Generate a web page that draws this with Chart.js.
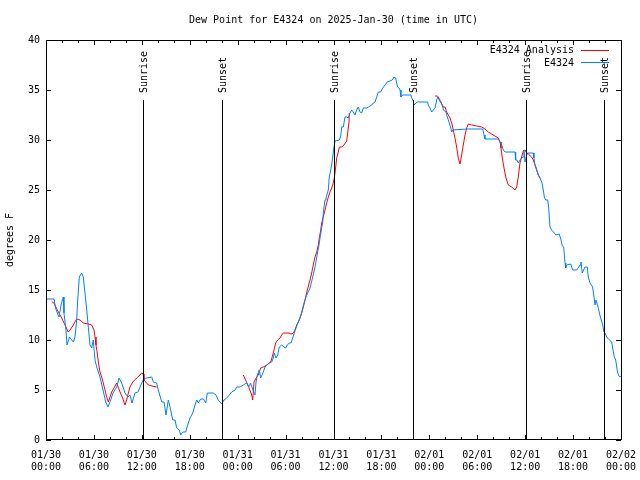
<!DOCTYPE html>
<html><head><meta charset="utf-8">
<script src="https://cdn.jsdelivr.net/npm/chart.js@4.4.1/dist/chart.umd.min.js"></script>
<style>html,body{margin:0;padding:0;background:#fff;}#wrap{width:640px;height:480px;}</style>
</head><body><div id="wrap"><canvas id="c" width="640" height="480"></canvas></div>
<script>
const titleText = 'Dew Point for E4324 on 2025-Jan-30 (time in UTC)';
const yAxisTitle = 'degrees F';
const seriesNames = ['E4324 Analysis', 'E4324'];
const xTickLabels = [['01/30','00:00'],['01/30','06:00'],['01/30','12:00'],['01/30','18:00'],
  ['01/31','00:00'],['01/31','06:00'],['01/31','12:00'],['01/31','18:00'],
  ['02/01','00:00'],['02/01','06:00'],['02/01','12:00'],['02/01','18:00'],['02/02','00:00']];
const sunriseHours = [12.1, 36.1, 60.1];
const sunsetHours = [22.0, 46.0, 69.92];
const sunLabelLevel = 34;

// hours since 2025-01-30 00:00 UTC
const stationHours = [
  0, 1.0, 1.19, 1.5, 1.63, 1.88, 2.17, 2.25, 2.5, 2.63,
  2.94, 3.42, 3.63, 3.84, 3.97, 4.17, 4.47, 4.67, 4.88, 5.1,
  5.3, 5.51, 5.72, 5.92, 6.14, 6.35, 6.76, 7.14, 7.48, 7.76,
  8.01, 8.39, 8.85, 9.14, 9.48, 9.89, 10.27, 10.52, 10.77, 11.14,
  11.52, 11.98, 12.18, 12.61, 13.24, 13.44, 13.86, 14.06, 14.49, 14.78,
  15.03, 15.31, 15.53, 15.87, 16.15, 16.37, 16.69, 16.87, 17.12, 17.49,
  17.74, 18.03, 18.37, 18.66, 18.87, 19.07, 19.37, 19.7, 20.0, 20.2,
  20.95, 21.29, 21.57, 22.0, 22.29, 22.63, 22.95, 23.25, 23.67, 23.88,
  24.29, 24.71, 25.13, 25.36, 25.6, 25.92, 26.17, 26.3, 26.46, 26.71,
  26.88, 27.21, 27.42, 27.64, 27.96, 28.26, 28.46, 28.59, 28.8, 29.01,
  29.21, 29.51, 29.8, 30.01, 30.22, 30.47, 30.68, 30.89, 31.09, 31.3,
  31.55, 31.8, 32.02, 32.31, 32.64, 33.06, 33.4, 33.68, 34.02, 34.18,
  34.31, 34.52, 34.65, 34.72, 34.85, 34.94, 35.06, 35.35, 35.47, 35.65,
  35.77, 35.9, 36.06, 36.19, 36.73, 36.9, 37.03, 37.23, 37.44, 37.65,
  37.85, 38.07, 38.28, 38.48, 38.69, 38.9, 39.1, 39.32, 39.53, 39.73,
  40.16, 40.36, 40.78, 40.98, 41.2, 41.41, 41.61, 41.91, 42.16, 42.45,
  42.74, 43.07, 43.36, 43.57, 43.79, 43.91, 44.04, 44.2, 44.33, 44.45,
  44.66, 45.7, 45.79, 45.99, 46.08, 46.33, 46.49, 47.79, 47.87, 48.08,
  48.3, 48.5, 48.71, 48.92, 49.05, 49.25, 49.46, 49.67, 49.75, 50.09,
  50.25, 50.5, 50.68, 50.8, 50.93, 52.68, 54.68, 54.85, 54.97, 56.64,
  56.85, 57.06, 57.26, 57.48, 58.73, 58.81, 58.97, 59.14, 59.35, 59.56,
  59.76, 59.85, 59.98, 60.27, 61.02, 61.1, 61.23, 61.35, 61.52, 61.65,
  61.86, 62.11, 62.27, 62.4, 62.57, 62.82, 62.95, 63.03, 63.11, 63.32,
  63.65, 63.86, 64.27, 64.49, 64.65, 64.83, 64.9, 64.99, 65.08, 65.2,
  65.7, 65.95, 66.45, 66.87, 66.99, 67.15, 67.49, 67.78, 67.9, 68.12,
  68.45, 68.62, 68.75, 68.87, 69.16, 69.29, 69.46, 69.71, 69.87, 70.0,
  70.21, 70.42, 70.84, 71.04, 71.17, 71.34, 71.46, 71.59, 71.75, 71.87
];
const stationValues = [
  14.1, 14.1, 13.2, 12.5, 12.3, 13.5, 14.3, 12.7, 11, 9.5,
  10.3, 9.8, 10.3, 12, 14, 16.3, 16.7, 16.3, 14.7, 13,
  11.3, 9.5, 9.2, 10, 8, 7.3, 6.3, 5, 3.8, 3.3,
  3.8, 4.7, 5.3, 6.2, 5.7, 4.7, 4.3, 4.5, 3.7, 4.7,
  4.8, 5.7, 6.0, 6.2, 6.3, 5.8, 5.7, 5.0, 3.8, 3.8,
  2.5, 4, 3.3, 2, 2, 1.2, 1.0, 0.5, 0.8, 0.8,
  1.5, 2.2, 2.7, 3.5, 4, 3.7, 4.1, 4.1, 3.7, 4.7,
  4.7, 4.5, 4, 3.6, 4.0, 4.2, 4.5, 4.8, 5.0, 5.3,
  5.3, 5.5, 5.7, 5.3, 5.7, 5.0, 4.5, 5.8, 6.5, 7,
  6.2, 6.8, 7.3, 7.5, 7.7, 7.8, 8.2, 8.7, 8.2, 8.5,
  9.3, 9.5, 9.3, 9.2, 9.5, 9.7, 9.7, 10.2, 10.7, 11.2,
  11.7, 12.2, 12.8, 13.7, 14.5, 15.2, 16.3, 17.3, 18.8, 19.5,
  20.2, 21.2, 21.8, 22.7, 23.5, 24.0, 24.2, 25, 26.3, 27,
  27.5, 28.3, 29.3, 29.9, 30, 30.4, 31.3, 31.3, 32.3, 32.3,
  32.2, 32.7, 33, 32.8, 32.5, 33, 33.3, 32.8, 32.7, 33.2,
  33.2, 33.3, 33.5, 33.7, 33.8, 34.3, 34.8, 34.8, 35.2, 35.5,
  35.8, 35.9, 36, 36.3, 36.2, 35.7, 35.3, 35.2, 35.0, 34.3,
  34.5, 34.5, 34.2, 33.9, 33.5, 33.7, 33.8, 33.8, 33.5, 33.2,
  32.8, 33, 33.2, 34, 34.3, 34.0, 33.7, 33.5, 33, 32.8,
  32.3, 31.7, 31.2, 30.8, 31, 31.1, 31.1, 30.5, 30.1, 30.1,
  29.8, 29.5, 29, 28.8, 28.8, 28, 28, 27.7, 28, 28.2,
  28.3, 29, 27.8, 28.7, 28.7, 28.2, 27.5, 27.3, 26.8, 26.5,
  26.2, 25.7, 25, 24.3, 24, 24, 23.2, 22.2, 21.3, 21,
  20.7, 20.5, 20.6, 20, 19.4, 19.3, 18.5, 17.7, 17.2, 17.5,
  17.6, 17, 17, 17.5, 17.8, 16.7, 17.3, 17.3, 16.3, 15.7,
  15.3, 14.3, 13.5, 14, 13.2, 12.7, 12.2, 11.5, 10.8, 10.7,
  10.3, 10.1, 9.8, 8.8, 8.3, 8, 7.3, 6.7, 6.4, 6.3
];

const analysisHours = [
  0.79, 1.0, 1.54, 1.97, 2.38, 2.79, 3.01, 3.42, 3.84, 4.26,
  4.67, 5.3, 5.72, 6.01, 6.14, 6.26, 6.42, 6.55, 6.76, 6.97,
  7.17, 7.39, 7.6, 7.8, 8.23, 8.51, 8.85, 9.27, 9.6, 9.89,
  10.1, 10.31, 10.52, 10.86, 11.36, 11.77, 11.98, 12.18, 12.27, 12.81,
  13.27, 13.86, 19.0,
  24.71, 25.05, 25.33, 25.76, 25.88, 26.05, 26.38, 26.58, 26.88, 27.21,
  27.64, 28.14, 28.39, 28.55, 28.76, 29.01, 29.3, 29.51, 29.71, 30.43,
  30.68, 30.97, 31.18, 31.39, 31.59, 31.8, 32.02, 32.22, 32.43, 32.72,
  33.06, 33.27, 33.47, 33.68, 33.9, 34.1, 34.22, 34.4, 34.52, 34.72,
  34.94, 35.15, 35.35, 35.56, 35.77, 35.97, 36.1, 36.28, 36.4, 36.6,
  36.73, 37.03, 37.31, 37.65, 37.78, 37.94, 37.98, 43.0,
  48.71, 49.0, 49.12, 49.46, 49.67, 49.96, 50.17, 50.38, 50.59, 50.8,
  51.0, 51.21, 51.42, 51.63, 51.84, 52.05, 52.25, 52.47, 52.68, 52.88,
  53.3, 53.93, 54.56, 54.97, 55.38, 55.81, 56.22, 56.64, 56.85, 56.97,
  57.14, 57.35, 57.6, 57.89, 58.31, 58.73, 58.94, 59.14, 59.35, 59.56,
  59.76, 59.98, 60.19, 60.39, 60.81, 61.02, 61.23, 61.44, 61.65, 61.86
];
const analysisValues = [
  13.8, 13.7, 12.8, 12.2, 11.5, 10.8, 11, 11.5, 12.1, 12.0,
  11.7, 11.6, 11.5, 11, 10.3, 9.5, 8.7, 7.8, 6.8, 6.3,
  5.7, 5, 4.3, 3.8, 4.8, 5.2, 5.7, 4.8, 4.2, 3.5,
  4, 4.7, 5.3, 5.8, 6.2, 6.5, 6.7, 6.6, 6.0, 5.5,
  5.4, 5.3, null,
  6.5, 5.9, 5.4, 4.5, 4.0, 5.8, 6.3, 6.5, 7.2, 7.3,
  7.5, 7.8, 8.5, 9, 9.7, 10, 10.2, 10.5, 10.7, 10.7,
  10.6, 10.7, 11, 11.5, 11.8, 12.2, 12.7, 13.3, 14, 15,
  16, 16.7, 17.5, 18.3, 18.8, 19.5, 20.2, 21, 21.7, 22.3,
  23, 23.7, 24.3, 24.8, 25.2, 25.7, 26.2, 27.3, 28.2, 28.8,
  29.3, 29.3, 29.5, 29.9, 30.7, 31.8, 32.7, null,
  34.4, 34.4, 34.3, 33.8, 33.3, 33.3, 32.8, 32.5, 32.2, 31.7,
  31, 30.2, 29.3, 28.2, 27.6, 28.5, 29.5, 30.5, 31.2, 31.6,
  31.5, 31.4, 31.3, 31.1, 30.8, 30.6, 30.4, 30.2, 29.8, 29.2,
  28.2, 27.2, 26.2, 25.5, 25.3, 25, 25.3, 26.3, 27.7, 28.3,
  28.9, 29, 28.7, 28.6, 28.3, 28, 27.5, 27, 26.5, 26.2
];

const FONT = 'DejaVu Sans Mono';
const RED = '#ff0000';
const BLUE = '#0080ff';

const gnuplotDecor = {
  id: 'gnuplotDecor',
  afterDatasetsDraw(chart) {
    const {ctx, chartArea: a, scales: {x, y}} = chart;
    ctx.save();
    ctx.strokeStyle = '#000';
    ctx.lineWidth = 1;
    ctx.fillStyle = '#000';
    ctx.font = '10px "' + FONT + '"';
    // title, centred over the plot area
    ctx.textAlign = 'center';
    ctx.textBaseline = 'middle';
    ctx.fillText(titleText, (a.left + a.right) / 2, 20);
    // sunrise / sunset markers
    const topY = Math.round(y.getPixelForValue(sunLabelLevel));
    const drawSun = (h, label) => {
      const px = Math.round(x.getPixelForValue(h)) + 0.5;
      ctx.beginPath();
      ctx.moveTo(px, topY);
      ctx.lineTo(px, a.bottom);
      ctx.stroke();
      ctx.save();
      ctx.translate(px + 1, topY - 7);
      ctx.rotate(-Math.PI / 2);
      ctx.textAlign = 'left';
      ctx.textBaseline = 'middle';
      ctx.fillText(label, 0, 0);
      ctx.restore();
    };
    sunriseHours.forEach(h => drawSun(h, 'Sunrise'));
    sunsetHours.forEach(h => drawSun(h, 'Sunset'));
    // border
    ctx.strokeRect(a.left + 0.5, a.top + 0.5, a.right - a.left, a.bottom - a.top - 1);
    // ticks (inward, mirrored)
    ctx.beginPath();
    for (let h = 0; h <= 72; h += 2) {
      const px = Math.round(x.getPixelForValue(h)) + 0.5;
      const len = (h % 6 === 0) ? 5 : 3;
      ctx.moveTo(px, a.bottom); ctx.lineTo(px, a.bottom - len);
      ctx.moveTo(px, a.top); ctx.lineTo(px, a.top + len);
    }
    for (let v = 0; v <= 40; v += 5) {
      const py = Math.round(y.getPixelForValue(v)) + 0.5;
      ctx.moveTo(a.left, py); ctx.lineTo(a.left + 5, py);
      ctx.moveTo(a.right, py); ctx.lineTo(a.right - 5, py);
    }
    ctx.stroke();
    // legend
    const colors = [RED, BLUE];
    seriesNames.forEach((name, i) => {
      const ly = a.top + 10.5 + i * 12.5;
      ctx.fillStyle = '#000';
      ctx.textAlign = 'right';
      ctx.textBaseline = 'middle';
      ctx.fillText(name, a.right - 47, ly);
      ctx.strokeStyle = colors[i];
      ctx.beginPath();
      ctx.moveTo(a.right - 40, Math.round(ly) - 0.5);
      ctx.lineTo(a.right - 12, Math.round(ly) - 0.5);
      ctx.stroke();
    });
    ctx.restore();
  }
};

new Chart(document.getElementById('c'), {
  type: 'line',
  data: {
    datasets: [
      {
        label: seriesNames[0],
        data: analysisHours.map((h, i) => ({x: h, y: analysisValues[i]})),
        borderColor: RED, borderWidth: 1, pointRadius: 0, tension: 0,
        spanGaps: false, fill: false, order: 1
      },
      {
        label: seriesNames[1],
        data: stationHours.map((h, i) => ({x: h, y: stationValues[i]})),
        borderColor: BLUE, borderWidth: 1, pointRadius: 0, tension: 0,
        spanGaps: false, fill: false, order: 0
      }
    ]
  },
  options: {
    responsive: false,
    animation: false,
    layout: {padding: {left: 0, right: 19, top: 40, bottom: 0}},
    plugins: {
      legend: {display: false},
      tooltip: {enabled: false},
      title: {display: false}
    },
    scales: {
      x: {
        type: 'linear', min: 0, max: 72,
        grid: {display: false, drawTicks: false},
        border: {display: false},
        afterFit: s => { s.height = 40; s.paddingLeft = 0; s.paddingRight = 0; },
        ticks: {
          stepSize: 6, autoSkip: false, maxRotation: 0, color: '#000', padding: 9,
          font: {family: FONT, size: 10, lineHeight: 1.25},
          callback: v => xTickLabels[Math.round(v / 6)]
        }
      },
      y: {
        min: 0, max: 40,
        grid: {display: false, drawTicks: false},
        border: {display: false},
        afterFit: s => { s.width = 46; s.paddingTop = 0; s.paddingBottom = 0; },
        title: {display: true, text: yAxisTitle, color: '#000', font: {family: FONT, size: 10}, padding: {top: 4, bottom: 0}},
        ticks: {stepSize: 5, color: '#000', padding: 6, font: {family: FONT, size: 10}}
      }
    }
  },
  plugins: [gnuplotDecor]
});
</script>
</body></html>
